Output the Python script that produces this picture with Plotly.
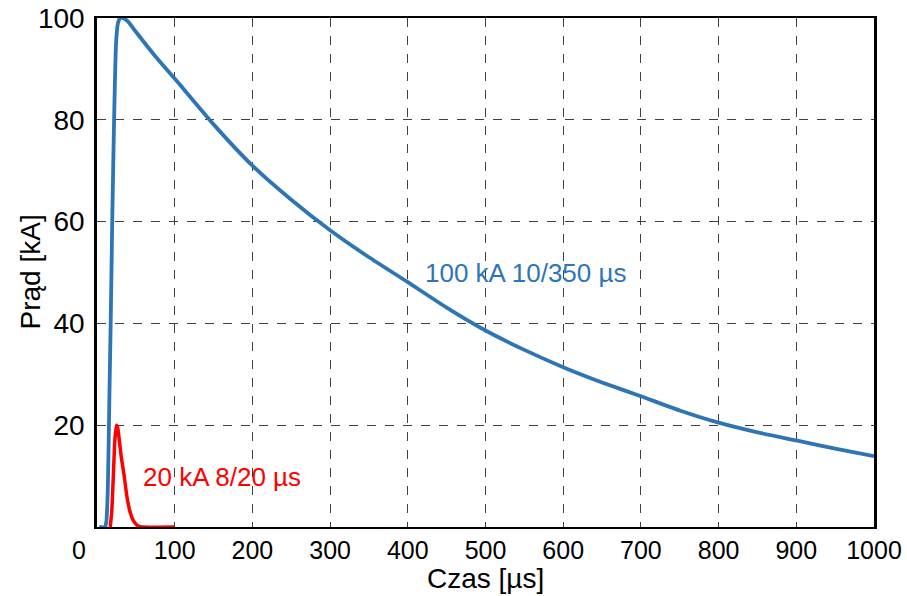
import plotly.graph_objects as go

# 100 kA 10/350 us waveform (time in us, current in kA)
t_blue = [3, 10, 12, 14, 16, 17.6, 19.6, 22, 24.5, 27, 30, 33, 40, 50, 75, 100, 150,
          200, 250, 300, 350, 400, 450, 500, 550, 600, 650, 700, 750, 800,
          850, 900, 950, 1000]
i_blue = [0, 0, 1, 8, 26, 40, 60, 80, 95, 99, 100, 100, 99.3, 97.3, 92.5, 88.1, 79.1,
          71.0, 64.3, 58.3, 53.0, 48.1, 43.1, 38.6, 34.8, 31.4, 28.4, 25.7, 22.9, 20.5,
          18.6, 17.0, 15.4, 13.9]

# 20 kA 8/20 us waveform
t_red = [17, 19, 21, 23, 25, 26.5, 28, 31, 35, 38.5, 42.5, 47, 53, 60, 100]
i_red = [0, 3, 10, 17, 20, 19.6, 18, 14, 10, 6, 3, 1.2, 0.2, 0, 0]

x_ticks = [100, 200, 300, 400, 500, 600, 700, 800, 900, 1000]
y_ticks = [20, 40, 60, 80, 100]

blue = '#2E75B6'
red = '#FF0000'
font = 'Liberation Sans, Arial, sans-serif'

fig = go.Figure()
fig.add_trace(go.Scatter(x=t_blue, y=i_blue, mode='lines',
                         line=dict(color=blue, width=3.8, shape='spline', smoothing=0.5),
                         showlegend=False))
fig.add_trace(go.Scatter(x=t_red, y=i_red, mode='lines',
                         line=dict(color=red, width=3.5, shape='spline', smoothing=0.5),
                         showlegend=False))

fig.add_annotation(x=420, y=50, xref='x', yref='y', text='100 kA 10/350 µs', showarrow=False,
                   xanchor='left', font=dict(color=blue, size=26, family=font))
fig.add_annotation(x=56, y=9.8, xref='x', yref='y', text='20 kA 8/20 µs', showarrow=False,
                   xanchor='left', font=dict(color=red, size=26, family=font))
# lone "0" label sitting left of the origin
fig.add_annotation(x=0, y=0, xref='x', yref='paper', text='0', showarrow=False,
                   yanchor='middle', xshift=-18, yshift=-23,
                   font=dict(color='black', size=25, family=font))
# axis titles
fig.add_annotation(x=0.5, y=0, xref='paper', yref='paper', text='Czas [µs]', showarrow=False,
                   yanchor='middle', yshift=-51, font=dict(color='black', size=28, family=font))
fig.add_annotation(x=0, y=0.5, xref='paper', yref='paper', text='Prąd [kA]', showarrow=False,
                   textangle=-90, xanchor='center', xshift=-67,
                   font=dict(color='black', size=28, family=font))

fig.update_xaxes(range=[0, 1000], tickvals=x_ticks, showgrid=True, gridcolor='#404040',
                 griddash='dash', gridwidth=1, showline=True, linecolor='black', linewidth=2,
                 mirror=True, ticks='', ticklabelstandoff=0, zeroline=False, automargin=False,
                 tickfont=dict(size=25, family=font, color='black'))
fig.update_yaxes(range=[0, 100], tickvals=y_ticks, showgrid=True, gridcolor='#404040',
                 griddash='dash', gridwidth=1, showline=True, linecolor='black', linewidth=2.5,
                 mirror=True, ticks='', ticklabelstandoff=4, zeroline=False, automargin=False,
                 tickfont=dict(size=28, family=font, color='black'))

fig.update_layout(width=907, height=596, margin=dict(l=97, r=33, t=18, b=69),
                  plot_bgcolor='white', paper_bgcolor='white')

# the page body has an 8px default margin; drop it so the figure fills the window
fig.write_html("out.html", config={'displayModeBar': False},
               post_script="document.body.style.margin='0';")
